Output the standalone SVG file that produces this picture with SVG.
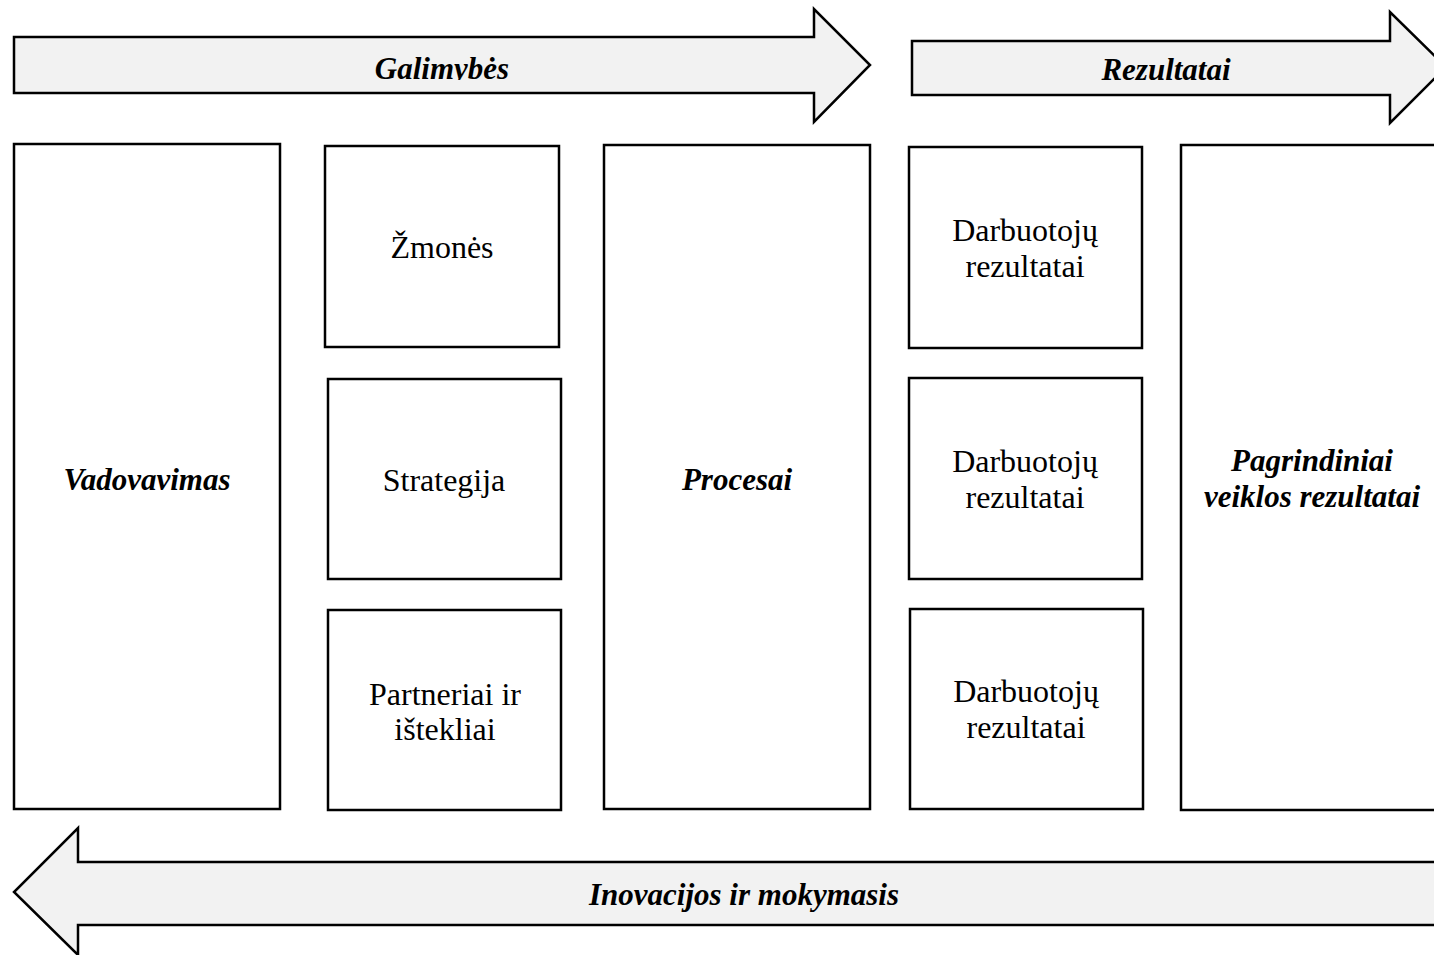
<svg xmlns="http://www.w3.org/2000/svg" width="1434" height="955" viewBox="0 0 1434 955">
  <style>
    .box { fill: #ffffff; stroke: #000000; stroke-width: 2.5; }
    .band { fill: #f2f2f2; stroke: #000000; stroke-width: 2.5; stroke-linejoin: miter; }
    .lbl { font-family: "Liberation Serif", "Times New Roman", serif; font-size: 32px; fill: #000000; text-anchor: middle; }
    .key { font-family: "Liberation Serif", "Times New Roman", serif; font-size: 31px; font-weight: bold; font-style: italic; fill: #000000; text-anchor: middle; }
  </style>
  <defs>
    <clipPath id="clip-galimybes">
      <rect x="14" y="37" width="800" height="43"/>
    </clipPath>
  </defs>
  <rect x="0" y="0" width="1434" height="955" fill="#ffffff"/>

  <!-- flow bands -->
  <g id="connectors">
    <g id="band-galimybes">
      <path class="band" d="M14,37 H814 V9 L870,65 L814,122 V93 H14 Z"/>
      <text class="key" x="442" y="79" clip-path="url(#clip-galimybes)">Galimybės</text>
    </g>
    <g id="band-rezultatai">
      <path class="band" d="M912,41 H1390 V12 L1446,67 L1390,123 V95 H912 Z"/>
      <text class="key" x="1166" y="80">Rezultatai</text>
    </g>
    <g id="band-inovacijos">
      <path class="band" d="M1440,862 H78 V828 L14,892 L78,955 V925 H1440 Z"/>
      <text class="key" x="744" y="905">Inovacijos ir mokymasis</text>
    </g>
  </g>

  <!-- enablers -->
  <g id="node-vadovavimas">
    <rect class="box" x="14" y="144" width="266" height="665"/>
    <text class="key" x="147" y="490">Vadovavimas</text>
  </g>
  <g id="node-zmones">
    <rect class="box" x="325" y="146" width="234" height="201"/>
    <text class="lbl" x="442" y="258">Žmonės</text>
  </g>
  <g id="node-strategija">
    <rect class="box" x="328" y="379" width="233" height="200"/>
    <text class="lbl" x="444" y="491">Strategija</text>
  </g>
  <g id="node-partneriai">
    <rect class="box" x="328" y="610" width="233" height="200"/>
    <text class="lbl" x="445" y="705">Partneriai ir</text>
    <text class="lbl" x="445" y="740">ištekliai</text>
  </g>
  <g id="node-procesai">
    <rect class="box" x="604" y="145" width="266" height="664"/>
    <text class="key" x="737" y="490">Procesai</text>
  </g>

  <!-- results -->
  <g id="node-darbuotoju-1">
    <rect class="box" x="909" y="147" width="233" height="201"/>
    <text class="lbl" x="1025" y="241">Darbuotojų</text>
    <text class="lbl" x="1025" y="277">rezultatai</text>
  </g>
  <g id="node-darbuotoju-2">
    <rect class="box" x="909" y="378" width="233" height="201"/>
    <text class="lbl" x="1025" y="472">Darbuotojų</text>
    <text class="lbl" x="1025" y="508">rezultatai</text>
  </g>
  <g id="node-darbuotoju-3">
    <rect class="box" x="910" y="609" width="233" height="200"/>
    <text class="lbl" x="1026" y="702">Darbuotojų</text>
    <text class="lbl" x="1026" y="738">rezultatai</text>
  </g>
  <g id="node-pagrindiniai">
    <rect class="box" x="1181" y="145" width="270" height="665"/>
    <text class="key" x="1312" y="471">Pagrindiniai</text>
    <text class="key" x="1312" y="507">veiklos rezultatai</text>
  </g>
</svg>
